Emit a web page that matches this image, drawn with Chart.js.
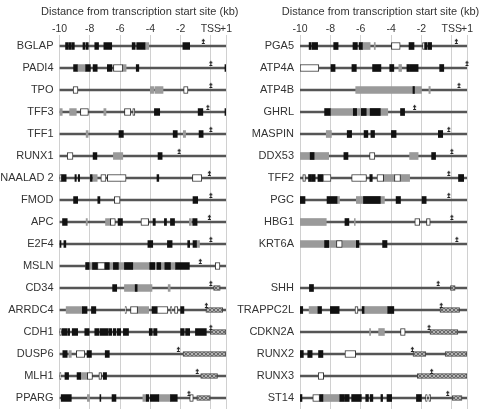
<!DOCTYPE html>
<html lang="en">
<head>
<meta charset="UTF-8" />
<title>Distance from TSS map</title>
<script src="https://cdn.jsdelivr.net/npm/chart.js@4"></script>
<style>
  body { margin: 0; background: #fff; width: 482px; height: 409px; overflow: hidden; position: relative; }
  canvas { position: absolute; top: 0; }
</style>
</head>
<body>
<canvas id="leftChart" width="241" height="409" style="left:0"></canvas>
<canvas id="rightChart" width="282" height="409" style="left:200px"></canvas>
<script>
// axis
const xTickValues = [-10, -8, -6, -4, -2, 0, 1];
const xTickLabels = ['-10', '-8', '-6', '-4', '-2', 'TSS', '+1'];
const axisTitle = 'Distance from transcription start site (kb)';
const lineStart = -10, lineEnd = 1;

// left panel
const leftGenes = ['BGLAP','PADI4','TPO','TFF3','TFF1','RUNX1','NAALAD 2','FMOD','APC','E2F4','MSLN','CD34','ARRDC4','CDH1','DUSP6','MLH1','PPARG'];
const leftBlack = [
  ['BGLAP',-9.6,-9.45],['BGLAP',-9.4,-9.25],['BGLAP',-9.2,-9.02],['BGLAP',-8.45,-8.32],['BGLAP',-8.25,-8.1],['BGLAP',-7.67,-7.42],['BGLAP',-7.07,-6.55],['BGLAP',-5.2,-5.0],['BGLAP',-4.9,-4.35],['BGLAP',-1.85,-1.4],
  ['PADI4',-9.07,-8.82],['PADI4',-8.27,-7.96],['PADI4',-7.78,-7.51],['PADI4',-6.84,-6.53],['PADI4',-4.93,-4.76],['PADI4',0.93,1.0],
  ['TFF3',-3.73,-3.38],['TFF3',-0.84,-0.53],['TFF3',0.93,1.0],
  ['TFF1',-6.07,-5.78],['TFF1',-2.49,-2.22],['TFF1',-0.78,-0.51],
  ['RUNX1',-7.78,-7.53],['RUNX1',-3.49,-3.22],
  ['NAALAD 2',-9.87,-9.56],['NAALAD 2',-8.98,-8.89],['NAALAD 2',-8.76,-8.67],['NAALAD 2',-7.96,-7.84],['NAALAD 2',-3.56,-3.44],
  ['FMOD',-9.07,-8.8],['FMOD',-7.47,-7.33],['FMOD',-1.18,-0.87],
  ['APC',-9.8,-9.49],['APC',-6.13,-5.84],['APC',-3.82,-3.67],['APC',-3.07,-2.93],['APC',-2.67,-2.4],['APC',-1.2,-0.91],
  ['E2F4',-10,-9.9],['E2F4',-9.71,-9.58],['E2F4',-4.16,-3.84],['E2F4',-2.87,-2.56],['E2F4',-1.53,-1.4],['E2F4',-1.18,-0.95],
  ['MSLN',-8.27,-8.04],['MSLN',-7.82,-7.49],['MSLN',-7.0,-6.71],['MSLN',-6.44,-6.11],['MSLN',-5.71,-5.16],['MSLN',-4.04,-3.71],['MSLN',-3.56,-3.31],['MSLN',-3.04,-2.67],['MSLN',-2.33,-1.42],
  ['CD34',-6.49,-6.22],['CD34',-5.0,-4.87],
  ['ARRDC4',-8.49,-8.18],['ARRDC4',-7.89,-7.6],['ARRDC4',-3.89,-3.56],['ARRDC4',-2.0,-1.78],
  ['CDH1',-9.82,-9.5],['CDH1',-9.45,-9.33],['CDH1',-9.16,-8.8],['CDH1',-8.33,-8.04],['CDH1',-7.67,-7.4],['CDH1',-7.33,-6.8],['CDH1',-6.75,-6.55],['CDH1',-6.45,-6.27],['CDH1',-6.18,-5.96],['CDH1',-5.78,-5.44],['CDH1',-4.07,-3.87],['CDH1',-3.78,-3.56],['CDH1',-2.0,-1.76],['CDH1',-1.67,-1.4],['CDH1',-1.02,-0.3],
  ['DUSP6',-9.78,-9.49],['DUSP6',-8.18,-7.89],['DUSP6',-6.98,-6.71],
  ['MLH1',-9.64,-9.4],['MLH1',-8.84,-8.6],['MLH1',-7.11,-6.89],
  ['PPARG',-9.89,-9.22],['PPARG',-7.33,-7.27],['PPARG',-6.53,-6.27],['PPARG',-4.27,-4.1],['PPARG',-4.0,-3.44],['PPARG',-2.67,-2.22]
];
const leftGray = [
  ['BGLAP',-4.35,-4.1],
  ['PADI4',-8.82,-8.27],['PADI4',-5.82,-5.6],
  ['TPO',-4.0,-3.78],['TPO',-3.7,-3.16],
  ['TFF3',-10,-9.82],['TFF3',-9.33,-8.89],['TFF3',-7.07,-6.93],
  ['TFF1',-8.24,-8.11],['TFF1',-1.82,-1.67],
  ['RUNX1',-6.44,-5.82],
  ['NAALAD 2',-7.8,-7.51],
  ['APC',-8.24,-8.16],['APC',-6.96,-6.64],['APC',-1.42,-1.29],
  ['E2F4',-0.95,-0.75],
  ['MSLN',-8.27,-2.33],
  ['CD34',-5.71,-3.89],['CD34',-2.82,-2.69],
  ['ARRDC4',-9.56,-8.49],['ARRDC4',-4.84,-4.11],
  ['DUSP6',-9.38,-9.22],
  ['MLH1',-8.6,-8.16],
  ['PPARG',-8.16,-8.02],['PPARG',-4.49,-4.27],['PPARG',-3.44,-2.67]
];
const leftWhite = [
  ['PADI4',-6.44,-5.82],
  ['TPO',-9.1,-8.78],['TPO',-1.8,-1.51],
  ['TFF3',-8.62,-8.09],['TFF3',-5.71,-5.29],['TFF3',-5.16,-5.02],
  ['RUNX1',-9.49,-9.11],
  ['NAALAD 2',-10,-9.87],['NAALAD 2',-7.27,-6.93],['NAALAD 2',-6.84,-5.6],['NAALAD 2',-1.22,-0.6],
  ['FMOD',-6.38,-6.0],
  ['APC',-6.64,-6.31],['APC',-4.62,-4.11],
  ['MSLN',-7.49,-7.0],['MSLN',0.29,0.6],
  ['ARRDC4',-5.67,-5.58],['ARRDC4',-5.31,-4.84],['ARRDC4',-3.56,-2.84],['ARRDC4',-2.67,-2.58],['ARRDC4',-2.4,-2.18],
  ['CDH1',-10,-9.87],
  ['DUSP6',-8.89,-8.33],
  ['MLH1',-10,-9.9],['MLH1',-8.16,-7.82],['MLH1',-7.4,-7.22],
  ['PPARG',-1.4,-1.16]
];
const leftHatch = [
  ['CD34',0.18,0.62],['ARRDC4',-0.33,0.78],['CDH1',-0.04,1.0],['DUSP6',-1.84,1.0],['MLH1',-0.67,0.44],['PPARG',-0.93,-0.04]
];
const leftTss = [-0.5, 0, 0, -0.2, 0, -2.1, -0.1, 0, -0.1, 0, -0.7, 0, -0.3, 0, -2.15, -0.9, -1.45];

// right panel
const rightGenes = ['PGA5','ATP4A','ATP4B','GHRL','MASPIN','DDX53','TFF2','PGC','HBG1','KRT6A','','SHH','TRAPPC2L','CDKN2A','RUNX2','RUNX3','ST14'];
const rightBlack = [
  ['PGA5',-9.4,-9.28],['PGA5',-9.22,-8.84],['PGA5',-7.78,-7.49],['PGA5',-6.51,-6.22],['PGA5',-6.11,-5.89],['PGA5',-2.82,-2.49],['PGA5',-1.78,-1.62],['PGA5',-1.55,-1.33],
  ['ATP4A',-7.96,-7.69],['ATP4A',-6.58,-6.29],['ATP4A',-5.22,-4.67],['ATP4A',-4.09,-3.82],['ATP4A',-2.96,-2.78],['ATP4A',-2.74,-2.22],['ATP4A',-0.8,-0.53],
  ['ATP4B',-2.56,-2.46],
  ['GHRL',-8.38,-8.0],['GHRL',-6.49,-6.27],['GHRL',-5.96,-5.64],['GHRL',-5.38,-4.71],['GHRL',-3.38,-3.11],
  ['MASPIN',-6.89,-6.6],['MASPIN',-5.78,-5.53],['MASPIN',-5.33,-5.09],['MASPIN',-3.98,-3.67],['MASPIN',-0.89,-0.6],
  ['DDX53',-9.33,-9.07],['DDX53',-7.11,-6.84],['DDX53',-1.33,-1.07],
  ['TFF2',-9.44,-9.29],['TFF2',-9.25,-9.0],['TFF2',-8.82,-8.49],['TFF2',-5.4,-5.24],['TFF2',0.44,0.78],
  ['PGC',-10,-9.67],['PGC',-8.22,-7.56],['PGC',-5.82,-4.71],['PGC',-3.67,-3.38],['PGC',-1.96,-1.69],
  ['HBG1',-7.04,-6.78],
  ['KRT6A',-8.38,-8.11],['KRT6A',-6.29,-6.11],['KRT6A',-4.56,-4.27],
  ['SHH',-9.38,-9.11],
  ['TRAPPC2L',-10,-9.82],['TRAPPC2L',-8.82,-8.58],['TRAPPC2L',-8.0,-7.42],['TRAPPC2L',-5.91,-5.78],['TRAPPC2L',-4.22,-3.82],
  ['RUNX2',-10,-9.78],['RUNX2',-9.49,-9.2],['RUNX2',-8.78,-8.49],
  ['ST14',-10,-9.87],['ST14',-8.71,-8.49],['ST14',-7.38,-7.11],['ST14',-7.07,-6.76],['ST14',-6.6,-5.96],['ST14',-5.67,-5.49],['ST14',-5.38,-5.2],['ST14',-4.67,-4.56],['ST14',-4.27,-3.96],['ST14',-2.33,-2.0]
];
const rightGray = [
  ['PGA5',-5.89,-5.38],['PGA5',-5.11,-5.04],
  ['ATP4A',-3.49,-3.31],
  ['ATP4B',-6.33,-2.0],['ATP4B',-1.51,-1.42],
  ['GHRL',-8.0,-4.22],
  ['MASPIN',-8.27,-7.93],
  ['DDX53',-10,-8.11],['DDX53',-2.78,-2.22],
  ['TFF2',-4.49,-3.78],['TFF2',-3.38,-2.78],
  ['PGC',-7.56,-7.4],['PGC',-6.29,-4.44],
  ['HBG1',-10,-8.27],['HBG1',-6.42,-6.36],
  ['KRT6A',-10,-6.29],
  ['TRAPPC2L',-9.4,-8.84],['TRAPPC2L',-5.78,-4.22],
  ['CDKN2A',-5.42,-5.35],['CDKN2A',-4.82,-4.44],
  ['ST14',-8.49,-7.38]
];
const rightWhite = [
  ['PGA5',-3.98,-3.4],['PGA5',-1.93,-1.78],
  ['ATP4A',-10,-8.76],
  ['DDX53',-5.42,-5.07],
  ['TFF2',-9.82,-9.64],['TFF2',-8.49,-7.96],['TFF2',-6.6,-5.62],['TFF2',-4.93,-4.49],['TFF2',-3.78,-3.38],
  ['HBG1',-2.44,-2.11],['HBG1',-1.67,-1.42],
  ['KRT6A',-7.6,-7.22],
  ['TRAPPC2L',-6.38,-6.18],
  ['CDKN2A',-3.38,-3.07],
  ['RUNX2',-7.04,-6.33],
  ['RUNX3',-8.8,-8.44],
  ['ST14',-9.16,-8.71],['ST14',-1.73,-1.62],['ST14',-1.51,-1.4]
];
const rightHatch = [
  ['SHH',-0.09,0.22],['TRAPPC2L',-0.78,0.51],['CDKN2A',-1.44,0.4],['RUNX2',-2.56,-1.71],['RUNX2',-0.44,1.0],['RUNX3',-2.27,1.0],['ST14',0,0.67]
];
const rightTss = [0.3, 1.0, 0.47, -2.45, -0.2, 0, -0.2, -0.2, 0, 0.33, null, -0.9, -0.7, -1.5, -2.6, -1.33, -0.27];

Chart.defaults.font.family = '"Liberation Sans", Arial, sans-serif';
Chart.defaults.color = '#333';

// TSS arrow marker
const arrow = document.createElement('canvas');
arrow.width = 7; arrow.height = 20;
const a = arrow.getContext('2d');
a.strokeStyle = '#222'; a.fillStyle = '#222'; a.lineWidth = 1;
a.beginPath(); a.moveTo(3.5, 4.5); a.lineTo(3.5, 8); a.stroke();
a.beginPath(); a.moveTo(3.5, 2.5); a.lineTo(5.3, 5.2); a.lineTo(1.7, 5.2); a.closePath(); a.fill();
a.beginPath(); a.moveTo(2, 7.5); a.lineTo(5, 7.5); a.stroke();

// hatch fill
const hp = document.createElement('canvas');
hp.width = 4; hp.height = 4;
const h = hp.getContext('2d');
h.fillStyle = '#b5b5b5'; h.fillRect(0, 0, 4, 4);
h.fillStyle = '#6a6a6a';
[[0,0],[1,1],[2,2],[3,3],[3,0],[2,1],[1,2],[0,3]].forEach(p => h.fillRect(p[0], p[1], 1, 1));

// title drawn above each panel (the scale title squeezes text to the axis width)
const panelTitle = {
  id: 'panelTitle',
  afterDraw(chart) {
    const { ctx, chartArea } = chart;
    ctx.save();
    ctx.font = '11px "Liberation Sans", Arial, sans-serif';
    ctx.fillStyle = '#333';
    ctx.textAlign = 'center';
    ctx.textBaseline = 'middle';
    ctx.fillText(axisTitle, (chartArea.left + chartArea.right) / 2 - 3, 12);
    ctx.restore();
  }
};

const toBars = list => list.map(r => ({ y: r[0], x: [r[1], r[2]] }));

function makeChart(id, genes, black, gray, white, hatch, tss, labelWidth) {
  const ctx = document.getElementById(id).getContext('2d');
  const pattern = ctx.createPattern(hp, 'repeat');
  const lines = genes.filter(g => g !== '').map(g => ({ y: g, x: [lineStart, lineEnd] }));
  const arrows = [];
  tss.forEach((v, i) => { if (v !== null) arrows.push({ x: v, y: genes[i] }); });

  return new Chart(ctx, {
    type: 'bar',
    data: {
      datasets: [
        { data: lines, backgroundColor: '#555', barThickness: 1.6, order: 10 },
        { data: toBars(gray), backgroundColor: '#9a9a9a', barThickness: 7, order: 6 },
        { data: toBars(black), backgroundColor: '#111', barThickness: 7, order: 5 },
        { data: toBars(white), backgroundColor: '#fff', borderColor: '#333', borderWidth: 1, borderSkipped: false, barThickness: 7, order: 4 },
        { data: toBars(hatch), backgroundColor: pattern, borderColor: '#444', borderWidth: 1, borderSkipped: false, barThickness: 5, order: 4 },
        { type: 'scatter', data: arrows, pointStyle: arrow, pointRadius: 3, clip: false, order: 1 }
      ]
    },
    plugins: [panelTitle],
    options: {
      responsive: false,
      animation: false,
      indexAxis: 'y',
      layout: { autoPadding: false, padding: { left: 0, right: 15, top: 0, bottom: 0 } },
      datasets: { bar: { grouped: false } },
      plugins: { legend: { display: false }, tooltip: { enabled: false } },
      scales: {
        x: {
          type: 'linear', position: 'top', min: -10, max: 1,
          afterBuildTicks: s => { s.ticks = xTickValues.map(v => ({ value: v })); },
          afterFit: s => { s.height = 35; },
          ticks: { font: { size: 10.5 }, padding: 0, maxRotation: 0, autoSkip: false, color: '#333',
                   callback: v => xTickLabels[xTickValues.indexOf(v)] },
          grid: { color: '#d0d0d0', drawTicks: false, lineWidth: 1 },
          border: { display: false }
        },
        y: {
          type: 'category', labels: genes, offset: true,
          afterFit: s => { s.width = labelWidth; s.paddingTop = 0; s.paddingBottom = 0; },
          ticks: { font: { size: 11 }, padding: 6, color: '#333', autoSkip: false },
          grid: { display: false, drawTicks: false },
          border: { display: false }
        }
      }
    }
  });
}

makeChart('leftChart', leftGenes, leftBlack, leftGray, leftWhite, leftHatch, leftTss, 59.5);
makeChart('rightChart', rightGenes, rightBlack, rightGray, rightWhite, rightHatch, rightTss, 100);
</script>
</body>
</html>
